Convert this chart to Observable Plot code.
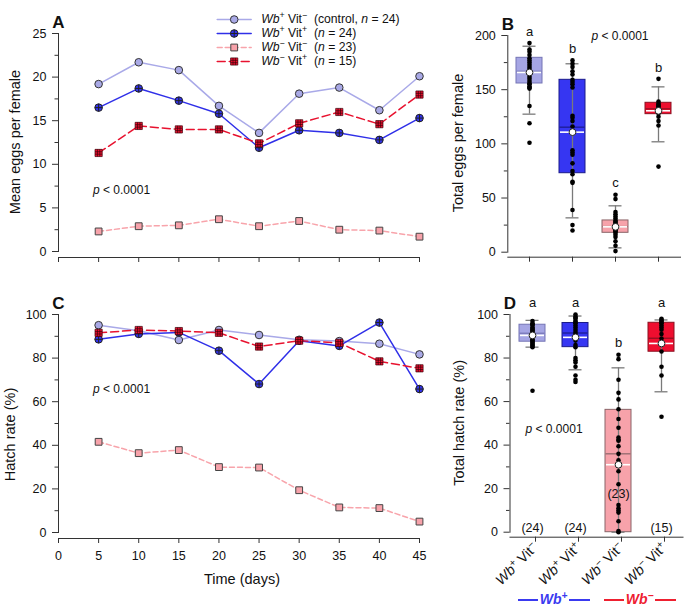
<!DOCTYPE html>
<html><head><meta charset="utf-8">
<script src="https://cdn.jsdelivr.net/npm/d3@7"></script>
<script src="https://cdn.jsdelivr.net/npm/@observablehq/plot@0.6"></script>
<style>
body{margin:0;background:#fff;}
#fig{position:relative;width:685px;height:608px;font-family:"Liberation Sans",Arial,sans-serif;overflow:hidden;background:#fff;}
</style></head><body><div id="fig"></div>
<script>
// ---------- DATA ----------
const days = [5, 10, 15, 20, 25, 30, 35, 40, 45];
const dayTicks = [0, 5, 10, 15, 20, 25, 30, 35, 40, 45];
const seriesKeys = ["WpVm", "WpVp", "WmVm", "WmVp"];
const legendLabels = [
  "_Wb_^+^ Vit^−^\u00a0\u00a0(control, _n_ = 24)",
  "_Wb_^+^ Vit^+^\u00a0\u00a0(_n_ = 24)",
  "_Wb_^−^ Vit^−^\u00a0\u00a0(_n_ = 23)",
  "_Wb_^−^ Vit^+^\u00a0\u00a0(_n_ = 15)"
];
// Panel A: mean eggs per female
const eggsWpVm = [19.2, 21.7, 20.8, 16.7, 13.6, 18.1, 18.8, 16.2, 20.1];
const eggsWpVp = [16.5, 18.7, 17.3, 15.8, 11.9, 13.9, 13.6, 12.8, 15.3];
const eggsWmVm = [2.3, 2.9, 3.0, 3.7, 2.9, 3.5, 2.5, 2.4, 1.7];
const eggsWmVp = [11.3, 14.4, 14.0, 14.0, 12.4, 14.7, 16.0, 14.6, 18.0];
// Panel C: hatch rate (%)
const hatchWpVm = [95.1, 92.5, 88.3, 92.9, 90.6, 88.4, 87.8, 86.6, 81.7];
const hatchWpVp = [88.6, 91.1, 91.8, 83.4, 68.1, 88.0, 85.6, 96.3, 65.8];
const hatchWmVm = [41.6, 36.4, 37.8, 30.0, 29.8, 19.4, 11.5, 11.2, 5.0];
const hatchWmVp = [91.6, 92.9, 92.4, 91.6, 85.3, 88.0, 87.0, 78.5, 75.3];

// Panels B & D: groups
const groupKeys = ["WpVm", "WpVp", "WmVm", "WmVp"];
const groupTickLabels = ["_Wb_^+^ Vit^−^", "_Wb_^+^ Vit^+^", "_Wb_^−^ Vit^−^", "_Wb_^−^ Vit^+^"];
const groupN = [24, 24, 23, 15];
// Panel B: total eggs per female
const eggsQ1 = [155.7, 72.9, 17.9, 127.4];
const eggsMedian = [167.0, 115.4, 23.7, 132.3];
const eggsQ3 = [179.4, 159.1, 29.3, 137.9];
const eggsMean = [165.9, 110.8, 23.4, 130.5];
const eggsLo = [127.4, 31.7, 4.0, 101.9];
const eggsHi = [190.1, 173.9, 42.8, 152.6];
const eggsLetters = ["a", "b", "c", "b"];
const eggsPtsWpVm = [193, 187, 185, 182, 179, 177, 175, 173, 171, 169, 167, 166, 164, 162, 160, 158, 156, 155, 153, 152, 151, 135, 119, 101];
const eggsPtsWpVp = [177, 174, 171, 167, 164, 159, 157, 155, 152, 126, 124, 121, 116, 94, 92, 90, 82, 75, 72, 65, 64, 39, 25, 20];
const eggsPtsWmVm = [53, 49, 37, 35, 33, 31, 29, 28, 27, 26, 25, 24, 23, 22, 21, 20, 19, 18, 16, 14, 10, 6, 1];
const eggsPtsWmVp = [160, 139, 137, 136, 135, 134, 133, 132, 131, 130, 128, 125, 121, 117, 79];
// Panel D: total hatch rate (%)
const hatchQ1 = [87.5, 85.0, 0, 82.9];
const hatchMedian = [91.4, 91.5, 36.0, 89.1];
const hatchQ3 = [95.3, 96.1, 56.2, 96.2];
const hatchMean = [90.4, 89.5, 31.0, 86.7];
const hatchLo = [85.0, 74.6, 0, 64.5];
const hatchHi = [97.3, 99.3, 75.5, 97.5];
const hatchLetters = ["a", "a", "b", "a"];
const hatchPtsWpVm = [97, 96, 95.5, 95, 94, 93.5, 93, 92.5, 92, 91.5, 91, 90.5, 90, 89.5, 89, 88.5, 88, 87.5, 87, 86.5, 86, 85.5, 85, 65];
const hatchPtsWpVp = [100, 99, 98.5, 98, 97, 96.5, 96, 95, 94, 93, 92, 91, 90, 89, 88, 86, 85, 80, 79, 78, 76, 72, 70, 69];
const hatchPtsWmVm = [81.5, 79.5, 70, 64, 61, 56.5, 52, 48, 43.5, 42.5, 42, 39.5, 36, 33, 28, 22, 12.5, 11, 10, 9, 5, 0.5, 0];
const hatchPtsWmVp = [98, 97.5, 97, 96.5, 96, 95, 94, 93, 91, 89, 87, 83, 76, 72, 53];

const groupLegend = [
  {label: "_Wb_^+^", cats: ["WpVm", "WpVp"], color: "#3a3af0"},
  {label: "_Wb_^−^", cats: ["WmVm", "WmVp"], color: "#ee2030"}
];

// ---------- STYLES ----------
const FONT = "'Liberation Sans', Arial, sans-serif";
const AX = "#333";
const circlePlus = {draw(c, size) { const r = Math.sqrt(size / Math.PI); c.moveTo(r, 0); c.arc(0, 0, r, 0, 2 * Math.PI); c.moveTo(-r, 0); c.lineTo(r, 0); c.moveTo(0, -r); c.lineTo(0, r); }};
const squareSym = {draw(c, size) { const s = Math.sqrt(size / Math.PI); c.rect(-s, -s, 2 * s, 2 * s); }};
const squareHash = {draw(c, size) { const s = Math.sqrt(size / Math.PI); c.rect(-s, -s, 2 * s, 2 * s); const t = s / 3; c.moveTo(-t, -s); c.lineTo(-t, s); c.moveTo(t, -s); c.lineTo(t, s); c.moveTo(-s, -t); c.lineTo(s, -t); c.moveTo(-s, t); c.lineTo(s, t); }};
const seriesStyle = {
  WpVm: {line: "#a9a9e8", fill: "#a9a9e6", dash: null, symbol: "circle", r: 3.8, sw: 1, st: "#333"},
  WpVp: {line: "#2f2fe8", fill: "#3232ee", dash: null, symbol: circlePlus, r: 3.8, sw: 1, st: "#222"},
  WmVm: {line: "#f8a4ab", fill: "#f7a2aa", dash: "5,3", symbol: squareSym, r: 3.4, sw: 1, st: "#444"},
  WmVp: {line: "#e8122f", fill: "#ee1030", dash: "8,4", symbol: squareHash, r: 3.6, sw: 0.7, st: "#3a0008"}
};
const boxStyle = {
  WpVm: {fill: "#a6a6e4", stroke: "#7575b5"},
  WpVp: {fill: "#3636f2", stroke: "#1a1a8a"},
  WmVm: {fill: "#f7a2aa", stroke: "#8a6569"},
  WmVp: {fill: "#ee0e2f", stroke: "#8a1020"}
};
const baseStyle = {fontFamily: FONT, fontSize: "12.5px", background: "transparent", overflow: "visible", color: "#111"};

// ---------- HELPERS ----------
const fig = document.getElementById("fig");
function richify(root) {
  d3.select(root).selectAll("text").each(function () {
    const s = this.textContent;
    if (!/[_^]/.test(s)) return;
    const parts = []; let it = false, sup = false, buf = "";
    const flush = () => { if (buf) { parts.push({t: buf, it, sup}); buf = ""; } };
    for (const ch of s) {
      if (ch === "_") { flush(); it = !it; }
      else if (ch === "^") { flush(); sup = !sup; }
      else buf += ch;
    }
    flush();
    while (this.firstChild) this.removeChild(this.firstChild);
    for (const p of parts) {
      const ts = document.createElementNS("http://www.w3.org/2000/svg", "tspan");
      ts.textContent = p.t;
      if (p.it) ts.setAttribute("font-style", "italic");
      if (p.sup) { ts.setAttribute("baseline-shift", "super"); ts.setAttribute("font-size", "0.72em"); }
      this.appendChild(ts);
    }
  });
}
function place(node, left, top) {
  const d = document.createElement("div");
  d.style.position = "absolute"; d.style.left = left + "px"; d.style.top = top + "px";
  d.appendChild(node); fig.appendChild(d); richify(node); return node;
}

function linePanel(o) {
  const marks = [
    Plot.frame({anchor: "bottom", stroke: AX}),
    Plot.frame({anchor: "left", insetBottom: o.inset, stroke: AX}),
    Plot.axisY({ticks: o.yMajor, tickSize: 6, tickPadding: 6, stroke: AX, label: null}),
    Plot.axisY({ticks: o.yMinor, tickSize: 3.5, tickFormat: () => "", stroke: AX, label: null}),
    Plot.axisX({ticks: dayTicks, tickSize: 5, tickPadding: 8, stroke: AX, label: null,
      tickFormat: o.xLabels ? (d => String(d)) : (() => "")}),
    Plot.text([o.ylabel], {frameAnchor: "left", textAnchor: "middle", rotate: -90, dx: o.ylabelDx, dy: o.ylabelDy, fontSize: 14.5}),
    Plot.text([o.letter], {frameAnchor: "top-left", dy: -18, textAnchor: "middle", fontWeight: "bold", fontSize: 17}),
    Plot.text([{x: o.pX, y: o.pY, t: "_p_ < 0.0001"}], {x: "x", y: "y", text: "t", textAnchor: "start", fontSize: 12})
  ];
  if (o.xTitle) marks.push(Plot.text([o.xTitle], {frameAnchor: "bottom", dy: 45, dx: 3, fontSize: 14.5}));
  seriesKeys.forEach((k, i) => {
    const st = seriesStyle[k];
    const d = o.values[i].map((v, j) => ({day: days[j], value: v}));
    marks.push(Plot.line(d, {x: "day", y: "value", stroke: st.line, strokeWidth: 1.5, strokeDasharray: st.dash}));
    marks.push(Plot.dot(d, {x: "day", y: "value", symbol: st.symbol, r: st.r, fill: st.fill, stroke: st.st, strokeWidth: st.sw}));
  });
  return Plot.plot({
    width: o.width, height: o.height,
    marginLeft: o.ml, marginRight: o.mr, marginTop: o.mt, marginBottom: o.mb,
    insetBottom: o.inset,
    x: {domain: [0, 45], label: null},
    y: {domain: o.yDomain, label: null},
    style: baseStyle,
    marks
  });
}

function boxPanel(o) {
  const stats = groupKeys.map((g, i) => {
    const maxPt = d3.max(o.points[i]);
    return {group: g, q1: o.q1[i], median: o.median[i], q3: o.q3[i], mean: o.mean[i], lo: o.lo[i], hi: o.hi[i],
      letter: o.letters[i], top: o.letterTop(maxPt), n: groupN[i],
      fill: boxStyle[g].fill, stroke: boxStyle[g].stroke};
  });
  const pts = groupKeys.flatMap((g, i) => o.points[i].map(v => ({group: g, value: v})));
  const marks = [
    Plot.frame({anchor: "bottom", stroke: AX}),
    Plot.frame({anchor: "left", insetBottom: o.inset, stroke: AX}),
    Plot.axisY({ticks: o.yMajor, tickSize: 6, tickPadding: 6, stroke: AX, label: null}),
    Plot.axisY({ticks: o.yMinor, tickSize: 3.5, tickFormat: () => "", stroke: AX, label: null}),
    o.xLabels
      ? Plot.axisX({tickSize: 5, tickPadding: 3, tickRotate: -45, stroke: AX, label: null, fontSize: 14, dx: 3,
          tickFormat: k => groupTickLabels[groupKeys.indexOf(k)]})
      : Plot.axisX({tickSize: 5, tickFormat: () => "", stroke: AX, label: null}),
    Plot.text([o.ylabel], {frameAnchor: "left", textAnchor: "middle", rotate: -90, dx: o.ylabelDx, dy: o.ylabelDy, fontSize: 14.5}),
    Plot.text([o.letter], {frameAnchor: "top-left", dy: -18, textAnchor: "middle", fontWeight: "bold", fontSize: 17}),
    Plot.barY(stats, {x: "group", y1: "q1", y2: "q3", fill: "fill", stroke: "stroke", strokeWidth: 1}),
    Plot.ruleX(stats, {x: "group", y1: "lo", y2: "hi", stroke: "#7a7a7a", strokeWidth: 1.3}),
    Plot.tickY(stats, {x: "group", y: "hi", stroke: "#7a7a7a", strokeWidth: 1.3, insetLeft: 6.5, insetRight: 6.5}),
    Plot.tickY(stats, {x: "group", y: "lo", stroke: "#7a7a7a", strokeWidth: 1.3, insetLeft: 6.5, insetRight: 6.5}),
    Plot.tickY(stats, {x: "group", y: "median", stroke: "stroke", strokeWidth: 1.2, insetLeft: 0.5, insetRight: 0.5}),
    Plot.tickY(stats, {x: "group", y: "mean", stroke: "white", strokeWidth: 1.6, insetLeft: 1, insetRight: 1}),
    Plot.dot(pts, {x: "group", y: "value", r: 2.3, fill: "#000"}),
    Plot.dot(stats, {x: "group", y: "mean", r: 3.4, fill: "white", stroke: "#222", strokeWidth: 1}),
    Plot.text(stats, {x: "group", y: "top", text: "letter", dy: -11.5, fontSize: 13})
  ];
  marks.push(...o.extra(stats));
  return Plot.plot({
    width: o.width, height: o.height,
    marginLeft: o.ml, marginRight: o.mr, marginTop: o.mt, marginBottom: o.mb,
    insetBottom: o.inset,
    x: {type: "band", domain: groupKeys, paddingInner: 0.4, paddingOuter: 0.2, label: null},
    y: {domain: o.yDomain, label: null},
    color: {type: "identity"},
    style: baseStyle,
    marks
  });
}

// ---------- PANEL A ----------
place(linePanel({
  width: 430, height: 270, ml: 58, mr: 11, mt: 33, mb: 13, inset: 6,
  yDomain: [0, 25], yMajor: [0, 5, 10, 15, 20, 25], yMinor: [2.5, 7.5, 12.5, 17.5, 22.5],
  values: [eggsWpVm, eggsWpVp, eggsWmVm, eggsWmVp],
  ylabel: "Mean eggs per female", ylabelDx: -43.5, ylabelDy: -3.5,
  letter: "A", pX: 4.3, pY: 7.0, xLabels: false
}), 0, 0);

// ---------- PANEL C ----------
place(linePanel({
  width: 430, height: 318, ml: 58, mr: 11, mt: 24, mb: 70, inset: 6,
  yDomain: [0, 100], yMajor: [0, 20, 40, 60, 80, 100], yMinor: [10, 30, 50, 70, 90],
  values: [hatchWpVm, hatchWpVp, hatchWmVm, hatchWmVp],
  ylabel: "Hatch rate (%)", ylabelDx: -48, ylabelDy: 8,
  letter: "C", pX: 4.3, pY: 65.6, xLabels: true, xTitle: "Time (days)"
}), 0, 290);

// ---------- LEGEND ----------
const legendMarks = [];
seriesKeys.forEach((k, i) => {
  const st = seriesStyle[k];
  legendMarks.push(Plot.line([{k, x: 0}, {k, x: 1}], {x: "x", y: "k", stroke: st.line, strokeWidth: 1.5, strokeDasharray: st.dash}));
  legendMarks.push(Plot.dot([{k, x: 0.5}], {x: "x", y: "k", symbol: st.symbol, r: st.r, fill: st.fill, stroke: st.st, strokeWidth: st.sw}));
  legendMarks.push(Plot.text([{k, x: 1, t: legendLabels[i]}], {x: "x", y: "k", text: "t", textAnchor: "start", dx: 10, fontSize: 12.2}));
});
place(Plot.plot({
  width: 230, height: 80, margin: 0,
  x: {domain: [0, 1], range: [11.7, 45.7], axis: null},
  y: {type: "point", domain: seriesKeys, range: [11, 69.5], axis: null},
  style: baseStyle,
  marks: legendMarks
}), 205, 0);

// ---------- PANEL B ----------
place(boxPanel({
  width: 265, height: 270, ml: 87.3, mr: 5, mt: 35, mb: 13.3, inset: 5,
  yDomain: [0, 200], yMajor: [0, 50, 100, 150, 200], yMinor: [25, 75, 125, 175],
  q1: eggsQ1, median: eggsMedian, q3: eggsQ3, mean: eggsMean, lo: eggsLo, hi: eggsHi,
  letters: eggsLetters, letterTop: m => m,
  points: [eggsPtsWpVm, eggsPtsWpVp, eggsPtsWmVm, eggsPtsWmVp],
  ylabel: "Total eggs per female", ylabelDx: -49, ylabelDy: -3.3, letter: "B", xLabels: false,
  extra: () => [Plot.text(["_p_ < 0.0001"], {frameAnchor: "top-right", dx: -32, dy: -4, textAnchor: "end", fontSize: 12})]
}), 420, 0);

// ---------- PANEL D ----------
const plotD = place(boxPanel({
  width: 265, height: 318, ml: 89.5, mr: 2.5, mt: 24, mb: 71.3, inset: 5,
  yDomain: [0, 100], yMajor: [0, 20, 40, 60, 80, 100], yMinor: [10, 30, 50, 70, 90],
  q1: hatchQ1, median: hatchMedian, q3: hatchQ3, mean: hatchMean, lo: hatchLo, hi: hatchHi,
  letters: hatchLetters, letterTop: m => (m > 90 ? 100 : m),
  points: [hatchPtsWpVm, hatchPtsWpVp, hatchPtsWmVm, hatchPtsWmVp],
  ylabel: "Total hatch rate (%)", ylabelDx: -51, ylabelDy: -3, letter: "D", xLabels: true,
  extra: stats => [
    Plot.text([{y: 47.5, t: "_p_ < 0.0001"}], {frameAnchor: "left", y: "y", text: "t", dx: 15.5, textAnchor: "start", fontSize: 12}),
    Plot.text(stats, {x: "group", y: d => (d.q1 < 5 ? 17.6 : 2.0), text: d => `(${d.n})`, fontSize: 12.5})
  ]
}), 420, 290);

// ---------- GROUP LEGEND (below D) ----------
const xs = plotD.scale("x");
groupLegend.forEach(g => {
  const c = (xs.apply(g.cats[0]) + xs.apply(g.cats[1])) / 2 + xs.bandwidth / 2 + 420;
  const div = document.createElement("div");
  div.style.cssText = `position:absolute;left:${c - 36}px;top:591px;width:72px;height:16px;line-height:16px;display:flex;align-items:center;color:${g.color};font:italic bold 14px/16px ${FONT};`;
  const line = () => { const s = document.createElement("span"); s.style.cssText = `flex:1;height:1.5px;background:${g.color};margin-top:2px;`; return s; };
  const t = document.createElement("span");
  t.style.cssText = "padding:0 2px;white-space:nowrap;";
  t.innerHTML = g.label.replace(/_(.*?)_/g, "$1").replace(/\^(.*?)\^/g, "<sup style='font-size:0.72em;line-height:0;vertical-align:0.45em'>$1</sup>");
  div.appendChild(line()); div.appendChild(t); div.appendChild(line());
  fig.appendChild(div);
});
</script>
</body></html>
